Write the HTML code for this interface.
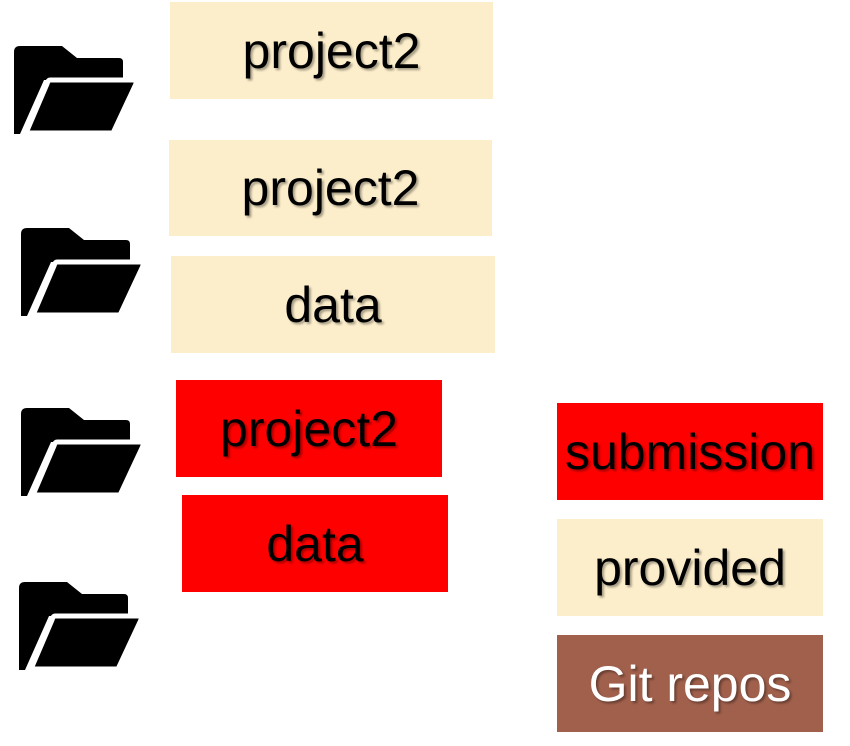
<!DOCTYPE html>
<html><head><style>
body{margin:0;width:850px;height:746px;background:#fff;position:relative;overflow:hidden;font-family:"Liberation Sans",sans-serif}
.b{position:absolute;display:flex;align-items:center;justify-content:center;font-size:50px;color:#000;text-shadow:2px 2px 2px rgba(0,0,0,0.35)}
.y{background:#FCEECB}.r{background:#FF0000}
.g{background:#A0604C;color:#fff}
svg{position:absolute}
</style></head><body>
<div class="b y" style="left:170px;top:2px;width:323px;height:97px">project2</div>
<div class="b y" style="left:169px;top:140px;width:323px;height:96px">project2</div>
<div class="b y" style="left:171px;top:256px;width:324px;height:97px">data</div>
<div class="b r" style="left:176px;top:380px;width:266px;height:97px">project2</div>
<div class="b r" style="left:182px;top:495px;width:266px;height:97px">data</div>
<div class="b r" style="left:557px;top:403px;width:266px;height:97px">submission</div>
<div class="b y" style="left:557px;top:519px;width:266px;height:97px">provided</div>
<div class="b g" style="left:557px;top:635px;width:266px;height:97px">Git repos</div>
<svg width="0" height="0"><defs><g id="f">
<path d="M0,6 Q0,0 6,0 L48,0 L63,12 L105,12 Q109,12 109,16 L109,34 L30,34 L6,88 L0,88 Z" fill="#000"/>
<path d="M36,34 L119,34 Q124,34 121,40 L99,87 L12,87 L33,38 Q34,34 36,34 Z" fill="#000" stroke="#fff" stroke-width="5"/>
</g></defs></svg>
<svg style="left:14px;top:46px" width="125" height="92"><use href="#f"/></svg>
<svg style="left:21px;top:228px" width="125" height="92"><use href="#f"/></svg>
<svg style="left:21px;top:408px" width="125" height="92"><use href="#f"/></svg>
<svg style="left:19px;top:582px" width="125" height="92"><use href="#f"/></svg>
</body></html>
